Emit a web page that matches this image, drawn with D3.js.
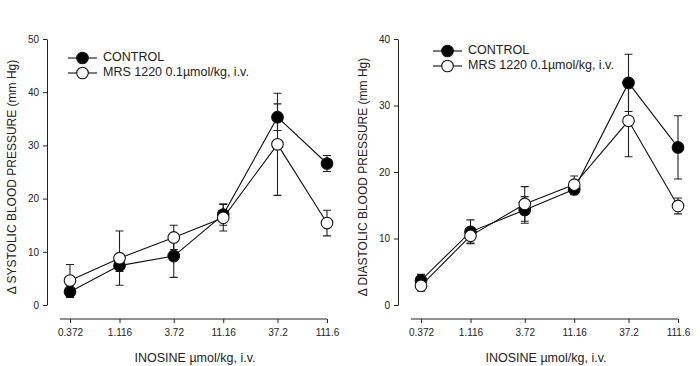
<!DOCTYPE html>
<html>
<head>
<meta charset="utf-8">
<script src="https://cdn.jsdelivr.net/npm/d3@7"></script>
<style>
  html, body { margin: 0; padding: 0; background: #fff; }
  svg { display: block; font-family: "Liberation Sans", Arial, sans-serif; }
</style>
</head>
<body>
<svg id="chart" width="700" height="366"></svg>
<script>
// ---- data ----
const doses = [0.372, 1.116, 3.72, 11.16, 37.2, 111.6];
const doseLabels = ["0.372", "1.116", "3.72", "11.16", "37.2", "111.6"];
const seriesNames = ["CONTROL", "MRS 1220 0.1\u00b5mol/kg, i.v."];
const seriesNamesRight = ["CONTROL", "MRS 1220 0.1\u00b5mol/kg,  i.v."];

const sysControl = [2.5, 7.4, 9.2, 17.0, 35.3, 26.6];
const sysControlErr = [1.1, 1.1, 4.0, 2.0, 2.5, 1.5];
const sysMrs = [4.6, 8.8, 12.7, 16.4, 30.2, 15.4];
const sysMrsErr = [3.0, 5.1, 2.3, 2.5, 9.6, 2.4];

const diaControl = [3.7, 11.0, 14.3, 17.4, 33.4, 23.7];
const diaControlErr = [0.9, 1.8, 2.0, 0.8, 4.3, 4.75];
const diaMrs = [2.9, 10.4, 15.2, 18.1, 27.7, 14.9];
const diaMrsErr = [0.8, 1.1, 2.6, 1.3, 5.4, 1.2];

const sysTicks = [0, 10, 20, 30, 40, 50];
const diaTicks = [0, 10, 20, 30, 40];

const svg = d3.select("#chart");
svg.append("rect").attr("width", 700).attr("height", 366).attr("fill", "#fff");

function panel(opt) {
  const g = svg.append("g");
  const x = d3.scaleLog().domain([doses[0], doses[doses.length - 1]]).range([opt.x0, opt.x0 + 257]);
  const y = d3.scaleLinear().domain([0, opt.ymax]).range([305, 39]);

  // y axis
  const ya = g.append("g").attr("transform", `translate(${opt.yAxisX},0)`)
    .call(d3.axisLeft(y).tickValues(opt.yTicks).tickFormat(d3.format("d")).tickSize(4).tickSizeOuter(0).tickPadding(4));
  ya.select(".domain").attr("stroke", "#222");
  ya.selectAll(".tick line").attr("stroke", "#222");
  ya.selectAll("text").attr("font-size", 10).attr("fill", "#222").attr("font-family", "Liberation Sans, Arial, sans-serif");

  // x axis
  const xa = g.append("g").attr("transform", "translate(0,319)")
    .call(d3.axisBottom(x).tickValues(doses).tickFormat((d, i) => doseLabels[i]).tickSize(4).tickSizeOuter(0).tickPadding(6));
  xa.select(".domain").attr("d", `M${opt.x0 - 10},0H${opt.x0 + 257}`).attr("stroke", "#222");
  xa.selectAll(".tick line").attr("stroke", "#222");
  xa.selectAll("text").attr("font-size", 10).attr("fill", "#222").attr("font-family", "Liberation Sans, Arial, sans-serif");

  // axis titles
  g.append("text")
    .attr("transform", `translate(${opt.labelX},177) rotate(-90)`)
    .attr("text-anchor", "middle").attr("dominant-baseline", "middle")
    .attr("font-size", 12).attr("fill", "#222")
    .text(opt.yTitle);
  g.append("text")
    .attr("x", opt.x0 + 125).attr("y", 362)
    .attr("text-anchor", "middle")
    .attr("font-size", 12.5).attr("fill", "#222")
    .text("INOSINE \u00b5mol/kg, i.v.");

  const series = [
    { v: opt.c, e: opt.ce, fill: "#000" },
    { v: opt.m, e: opt.me, fill: "#fff" }
  ];
  const line = d3.line().x((d, i) => x(doses[i])).y(d => y(d));
  series.forEach(s => {
    g.append("path").attr("d", line(s.v)).attr("fill", "none").attr("stroke", "#111").attr("stroke-width", 1.1);
  });
  series.forEach(s => {
    s.v.forEach((v, i) => {
      const cx = x(doses[i]);
      const lo = y(v - s.e[i]), hi = y(v + s.e[i]);
      g.append("path")
        .attr("d", `M${cx},${lo}V${hi}M${cx - 4},${lo}H${cx + 4}M${cx - 4},${hi}H${cx + 4}`)
        .attr("stroke", "#222").attr("stroke-width", 1.1).attr("fill", "none");
    });
  });
  series.forEach(s => {
    g.selectAll(null).data(s.v).enter().append("circle")
      .attr("cx", (d, i) => x(doses[i])).attr("cy", d => y(d)).attr("r", 5.8)
      .attr("fill", s.fill).attr("stroke", "#111").attr("stroke-width", 1.1);
  });

  // legend
  opt.names.forEach((name, k) => {
    const ly = opt.legY + k * 15;
    g.append("line").attr("x1", opt.legX).attr("x2", opt.legX + 29).attr("y1", ly).attr("y2", ly)
      .attr("stroke", "#111").attr("stroke-width", 1.1);
    g.append("circle").attr("cx", opt.legX + 14.5).attr("cy", ly).attr("r", 5.8)
      .attr("fill", series[k].fill).attr("stroke", "#111").attr("stroke-width", 1.1);
    g.append("text").attr("x", opt.legX + 35).attr("y", ly).attr("dominant-baseline", "middle")
      .attr("font-size", 12.5).attr("fill", "#222").text(name);
  });
}

panel({ x0: 70, yAxisX: 47, ymax: 50, yTicks: sysTicks, labelX: 13,
  yTitle: "\u0394 SYSTOLIC BLOOD PRESSURE (mm Hg)",
  c: sysControl, ce: sysControlErr, m: sysMrs, me: sysMrsErr,
  names: seriesNames, legX: 68, legY: 58 });

panel({ x0: 421, yAxisX: 398, ymax: 40, yTicks: diaTicks, labelX: 364,
  yTitle: "\u0394 DIASTOLIC BLOOD PRESSURE (mm Hg)",
  c: diaControl, ce: diaControlErr, m: diaMrs, me: diaMrsErr,
  names: seriesNamesRight, legX: 433, legY: 51 });
</script>
</body>
</html>
